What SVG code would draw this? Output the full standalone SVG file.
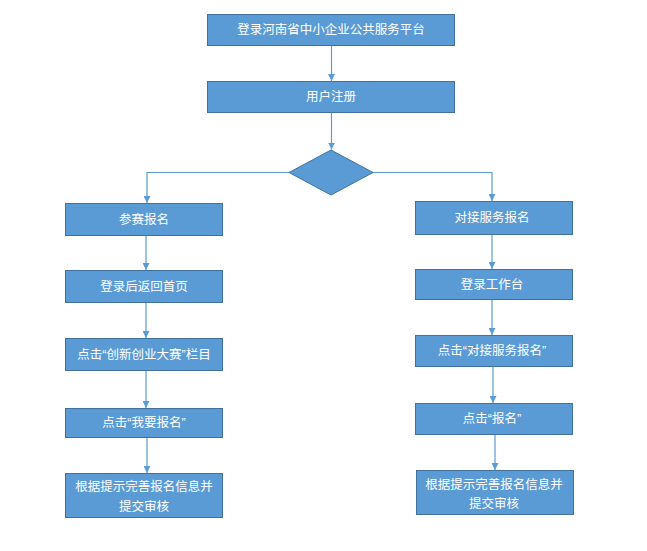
<svg xmlns="http://www.w3.org/2000/svg" width="647" height="551" viewBox="0 0 647 551">
<defs>
<marker id="ah" viewBox="0 0 8 8" refX="8" refY="4" markerWidth="7" markerHeight="7" markerUnits="userSpaceOnUse" orient="auto">
<path d="M0,0 L8,4 L0,8 z" fill="#5b9bd5"/>
</marker>
<style>
.box{fill:#5b9bd5;stroke:#41719c;stroke-width:1}
.t{font-family:"Liberation Sans","Noto Sans CJK SC",sans-serif;font-size:12.5px;fill:#ffffff;text-anchor:middle;dominant-baseline:central}
.c{fill:none;stroke:#5b9bd5;stroke-width:1.2;marker-end:url(#ah)}
</style>
</defs>
<rect width="647" height="551" fill="#ffffff"/>
<g id="n1"><rect class="box" x="207.5" y="14.5" width="247" height="31"/><text class="t" x="331" y="30">登录河南省中小企业公共服务平台</text></g>
<g id="n2"><rect class="box" x="207.5" y="81.5" width="247" height="31"/><text class="t" x="331" y="97">用户注册</text></g>
<g id="d1"><polygon class="box" points="331,150 373,172.5 331,195 289,172.5"/></g>
<g id="l1"><rect class="box" x="65.5" y="203.5" width="157" height="32"/><text class="t" x="144" y="219.5">参赛报名</text></g>
<g id="l2"><rect class="box" x="65.5" y="270.5" width="157" height="32"/><text class="t" x="144" y="286.5">登录后返回首页</text></g>
<g id="l3"><rect class="box" x="65.5" y="338.5" width="157" height="32"/><text class="t" x="144" y="354.5">点击“创新创业大赛”栏目</text></g>
<g id="l4"><rect class="box" x="65.5" y="408.5" width="157" height="29"/><text class="t" x="144" y="423">点击“我要报名”</text></g>
<g id="l5"><rect class="box" x="65.5" y="473.5" width="157" height="44"/><text class="t" x="144" y="487">根据提示完善报名信息并</text><text class="t" x="144" y="507">提交审核</text></g>
<g id="r1"><rect class="box" x="415.5" y="201.5" width="157" height="33"/><text class="t" x="492" y="218">对接服务报名</text></g>
<g id="r2"><rect class="box" x="415.5" y="269.5" width="157" height="30"/><text class="t" x="492" y="284.5">登录工作台</text></g>
<g id="r3"><rect class="box" x="415.5" y="335.5" width="157" height="31"/><text class="t" x="492" y="351">点击“对接服务报名”</text></g>
<g id="r4"><rect class="box" x="415.5" y="403.5" width="157" height="31"/><text class="t" x="492" y="419">点击“报名”</text></g>
<g id="r5"><rect class="box" x="416.5" y="470.5" width="157" height="44"/><text class="t" x="494" y="485">根据提示完善报名信息并</text><text class="t" x="494" y="504">提交审核</text></g>
<g id="connectors">
<path class="c" d="M331.5,46 V81"/>
<path class="c" d="M331.5,113 V149.5"/>
<path class="c" d="M289,172.5 H147 V203"/>
<path class="c" d="M373,172.5 H492 V201"/>
<path class="c" d="M146,236 V270"/>
<path class="c" d="M146,303 V338"/>
<path class="c" d="M146,371 V408"/>
<path class="c" d="M147,438 V473"/>
<path class="c" d="M492,235 V269"/>
<path class="c" d="M492,300 V335"/>
<path class="c" d="M493,367 V403"/>
<path class="c" d="M495,435 V470"/>
</g>
</svg>
